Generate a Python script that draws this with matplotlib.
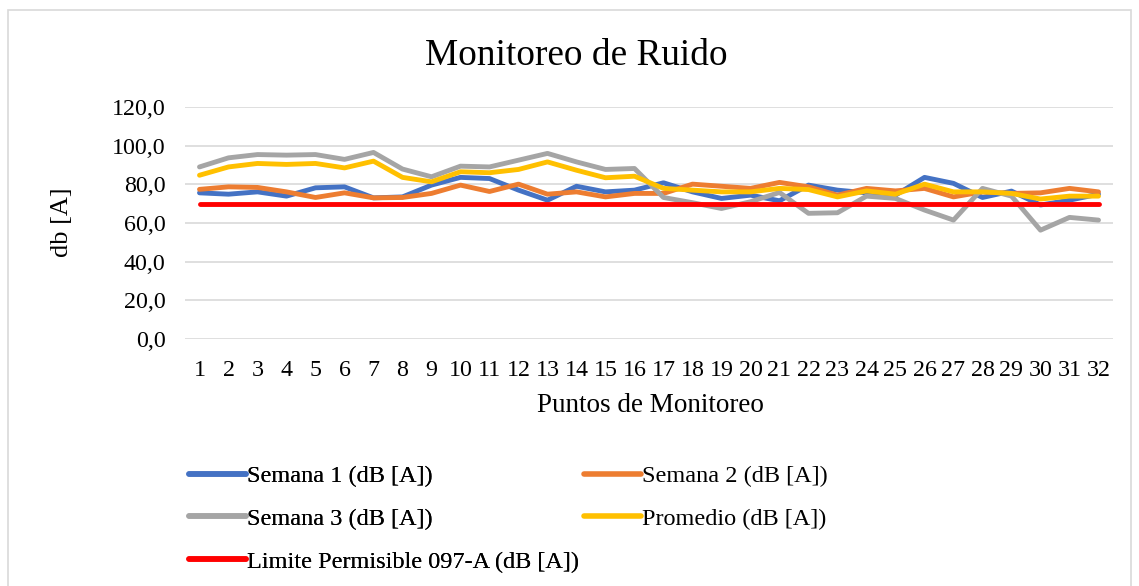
import matplotlib
matplotlib.use("Agg")
import matplotlib.pyplot as plt
from matplotlib.patches import Rectangle
from matplotlib.lines import Line2D
from matplotlib.ticker import FuncFormatter

puntos = list(range(1, 33))
semana1 = [75.6, 74.9, 76.1, 73.9, 78.2, 78.7, 73.0, 73.5, 79.6, 83.6, 83.0,
           77.0, 71.8, 79.0, 76.1, 77.0, 80.8, 76.1, 72.7, 74.4, 71.5, 79.6,
           77.0, 75.6, 74.4, 83.6, 80.5, 73.2, 76.5, 69.3, 71.8, 74.9]
semana2 = [77.4, 78.7, 78.4, 76.1, 73.2, 75.6, 73.0, 73.2, 75.3, 79.6, 76.3,
           80.1, 74.9, 76.1, 73.5, 75.3, 75.3, 80.1, 79.0, 77.9, 81.0, 78.7,
           74.4, 77.9, 76.6, 77.9, 73.5, 76.1, 75.3, 75.6, 77.9, 76.1]
semana3 = [89.0, 93.7, 95.4, 95.1, 95.4, 92.9, 96.5, 87.9, 83.9, 89.4, 89.0,
           92.5, 96.0, 91.6, 87.7, 88.2, 73.2, 70.5, 67.5, 71.0, 75.8, 65.0,
           65.3, 73.9, 72.7, 66.7, 61.5, 77.9, 73.9, 56.3, 62.9, 61.5]
promedio = [84.7, 89.0, 90.8, 90.3, 90.8, 88.5, 92.0, 83.6, 81.3, 86.5, 86.0,
            87.7, 91.6, 87.3, 83.4, 84.2, 77.9, 77.0, 76.1, 76.1, 77.9, 77.3,
            73.5, 76.6, 74.9, 80.1, 76.1, 76.1, 75.3, 72.4, 73.9, 73.9]
limite = [70.0] * 32
yticks = [0, 20, 40, 60, 80, 100, 120]

labels = ["Semana 1 (dB [A])", "Semana 2 (dB [A])", "Semana 3 (dB [A])",
          "Promedio (dB [A])", "Limite Permisible 097-A (dB [A])"]
colors = ["#4472C4", "#ED7D31", "#A5A5A5", "#FFC000", "#FF0000"]

plt.rcParams['font.family'] = ['Liberation Serif', 'DejaVu Serif']

W, H = 1139, 586
fig = plt.figure(figsize=(W / 100, H / 100), dpi=100)
fig.patches.append(Rectangle((8 / W, -0.05), (1131 - 8) / W, 1 - 10 / H + 0.05,
                             transform=fig.transFigure, fill=False,
                             edgecolor="#D9D9D9", linewidth=1.2))

ax = fig.add_axes([185 / W, 1 - 339 / H, (1113 - 185) / W, (339 - 107) / H])
series = [semana1, semana2, semana3, promedio, limite]
for s, c, l in zip(series, colors, labels):
    ax.plot(puntos, s, color=c, linewidth=3.5, label=l,
            solid_capstyle='round', solid_joinstyle='round')
ax.set_xlim(0.5, 32.5)
ax.set_ylim(0, 120)
ax.set_yticks(yticks)
ax.yaxis.set_major_formatter(FuncFormatter(lambda v, p: f"{v:.1f}".replace('.', ',')))
ax.set_xticks(puntos)
ax.grid(axis='y', color="#D9D9D9", linewidth=1.2)
ax.set_axisbelow(True)
for sp in ax.spines.values():
    sp.set_visible(False)
ax.tick_params(axis='both', length=0, labelsize=17.3, colors='black')
ax.tick_params(axis='y', pad=14)
ax.tick_params(axis='x', pad=15)

fig.text(576 / W, 1 - 56 / H, "Monitoreo de Ruido", ha='center', va='center', fontsize=26.8)
fig.text(650 / W, 1 - 406 / H, "Puntos de Monitoreo", ha='center', va='center', fontsize=19.5)
fig.text(62 / W, 1 - 222 / H, "db [A]", ha='center', va='center', rotation=90, fontsize=19)

def mk(i):
    return Line2D([], [], color=colors[i], linewidth=4, solid_capstyle='round')

kw = dict(loc='upper left', frameon=False, fontsize=17.5, handlelength=2.35,
          handletextpad=0.05, labelspacing=0.86, borderaxespad=0, borderpad=0)
leg1 = fig.legend([mk(0), mk(2), mk(4)], [labels[0], labels[2], labels[4]],
                  bbox_to_anchor=(189 / W, 1 - 465 / H), **kw)
leg2 = fig.legend([mk(1), mk(3)], [labels[1], labels[3]],
                  bbox_to_anchor=(584 / W, 1 - 465 / H), **kw)
fig.add_artist(leg1)

fig.savefig("out.png", dpi=100)
